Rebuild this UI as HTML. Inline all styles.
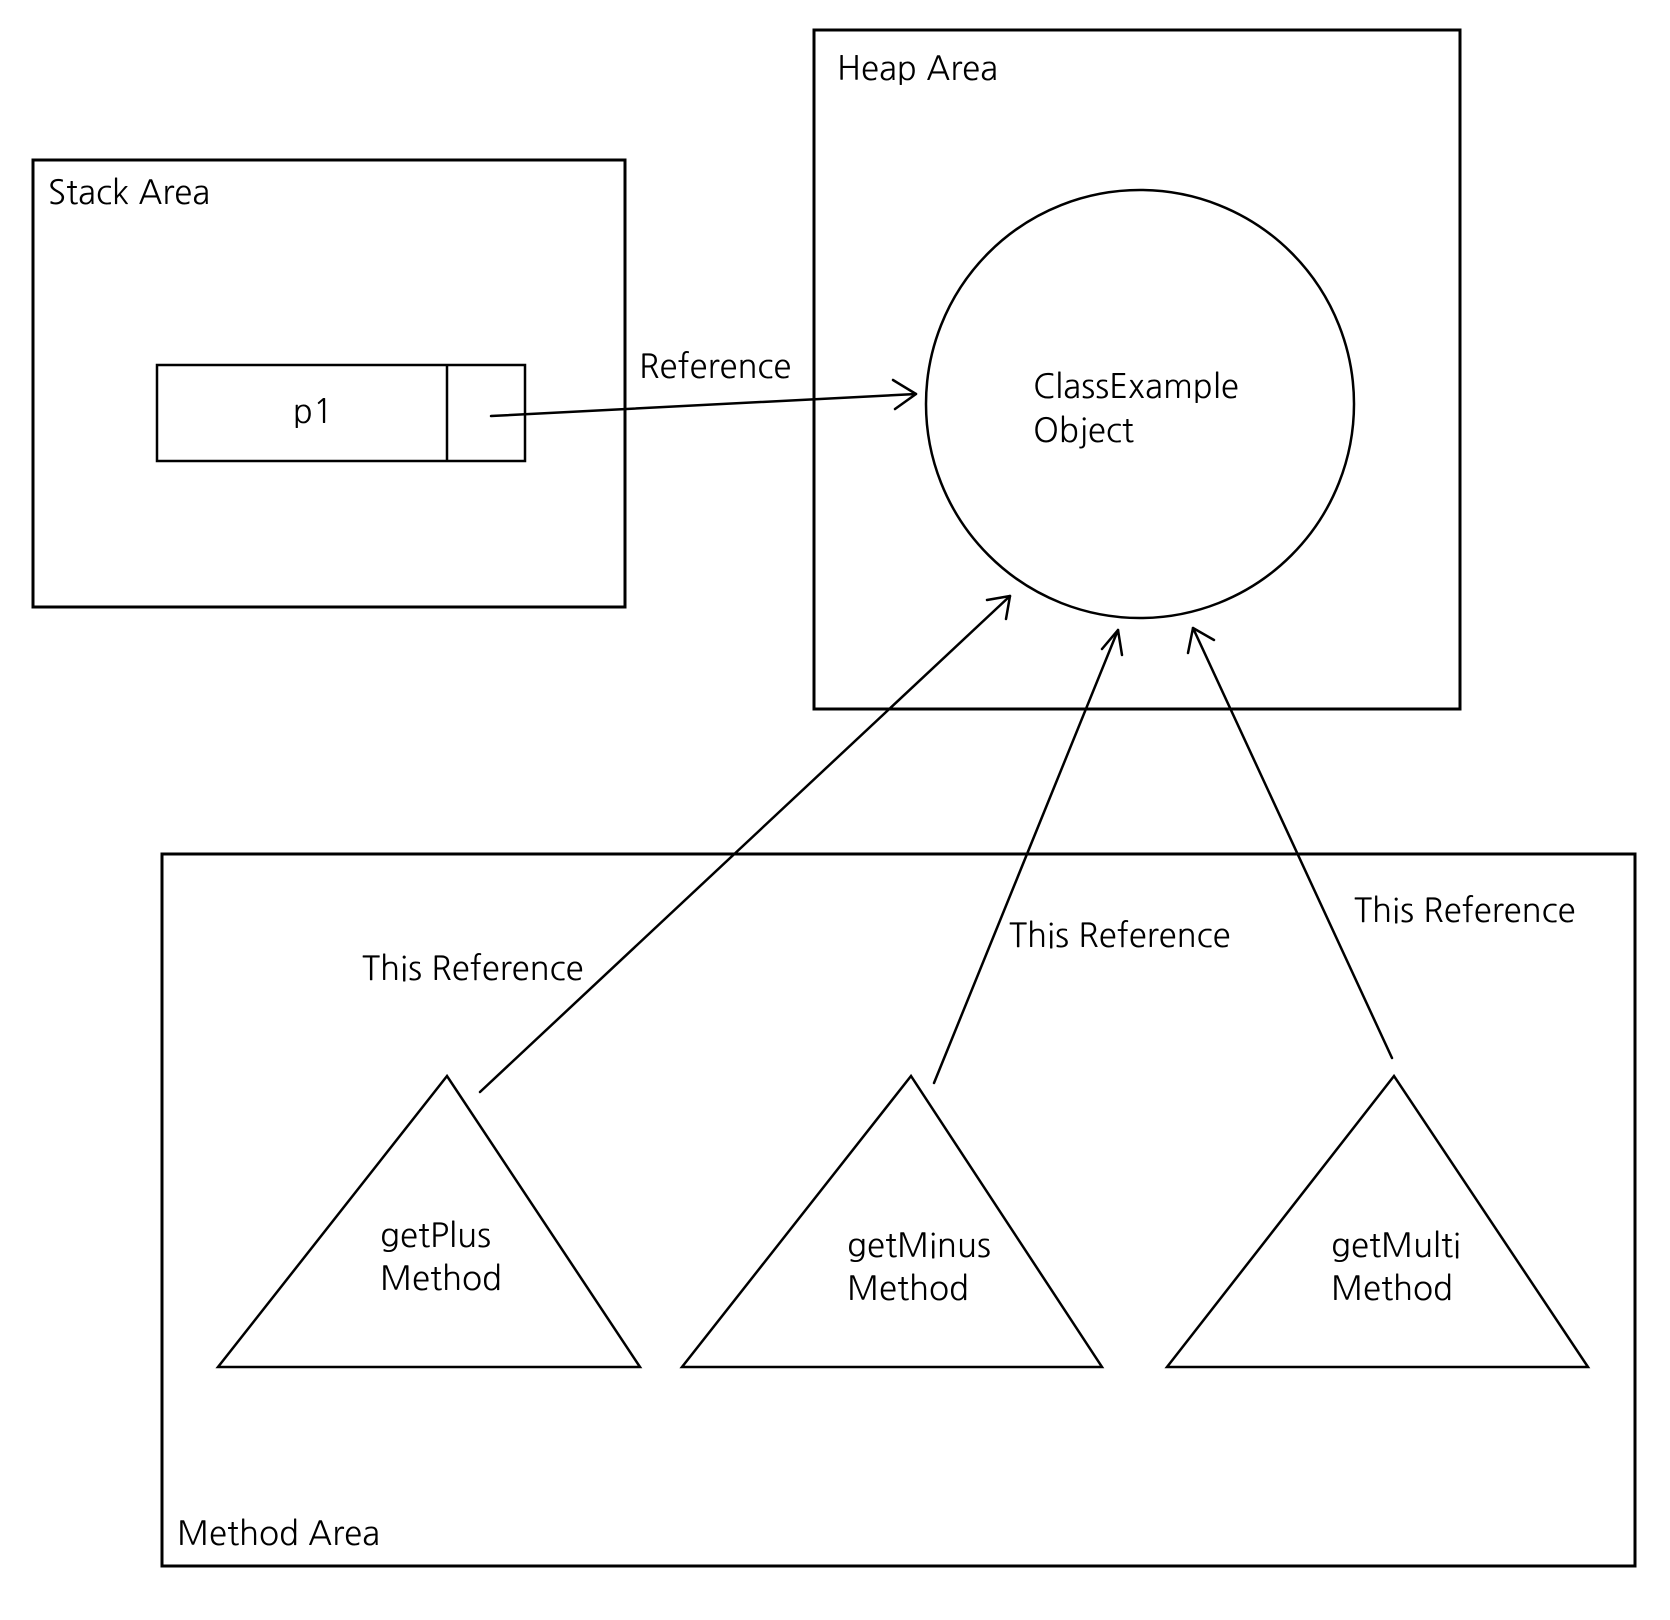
<!DOCTYPE html>
<html><head><meta charset="utf-8"><style>html,body{margin:0;padding:0;background:#fff}</style></head>
<body>
<svg width="1670" height="1615" viewBox="0 0 1670 1615" xmlns="http://www.w3.org/2000/svg" font-family="NanumGothic, 'Liberation Sans', sans-serif" font-size="33" fill="#000">
<g fill="none" stroke="#000" stroke-width="3">
<rect x="33" y="160" width="592" height="447"/>
<rect x="814" y="30" width="646" height="679"/>
<rect x="162" y="854" width="1473" height="712"/>
<rect x="157" y="365" width="368" height="96" stroke-width="2.5"/>
<line x1="447" y1="365" x2="447" y2="461" stroke-width="2.5"/>
<circle cx="1140" cy="404" r="214" stroke-width="2.5"/>
<polygon points="447,1076 218,1367 640,1367" stroke-width="2.5"/>
<polygon points="911,1076 682,1367 1102,1367" stroke-width="2.5"/>
<polygon points="1394,1076 1167,1367 1588,1367" stroke-width="2.5"/>
<g stroke-width="2.5" stroke-linecap="round" stroke-linejoin="round">
<line x1="491" y1="416" x2="916" y2="394"/>
<polyline points="893,380 916,394 895,409"/>
<line x1="480" y1="1092" x2="1010" y2="596"/>
<polyline points="987,600 1010,596 1006,619"/>
<line x1="934" y1="1083" x2="1118" y2="630"/>
<polyline points="1102,649 1118,630 1122,655"/>
<line x1="1392" y1="1058" x2="1193" y2="628"/>
<polyline points="1188,653 1193,628 1214,640"/>
</g>
</g>
<text x="48" y="204">Stack Area</text>
<text x="837" y="80">Heap Area</text>
<text x="293" y="423">p1</text>
<text x="639" y="378">Reference</text>
<text x="1033" y="398">ClassExample</text>
<text x="1033" y="442">Object</text>
<text x="362" y="980">This Reference</text>
<text x="1009" y="947">This Reference</text>
<text x="1354" y="922">This Reference</text>
<text x="380" y="1247">getPlus</text>
<text x="380" y="1290">Method</text>
<text x="847" y="1257">getMinus</text>
<text x="847" y="1300">Method</text>
<text x="1331" y="1257">getMulti</text>
<text x="1331" y="1300">Method</text>
<text x="177" y="1545">Method Area</text>
</svg>
</body></html>
